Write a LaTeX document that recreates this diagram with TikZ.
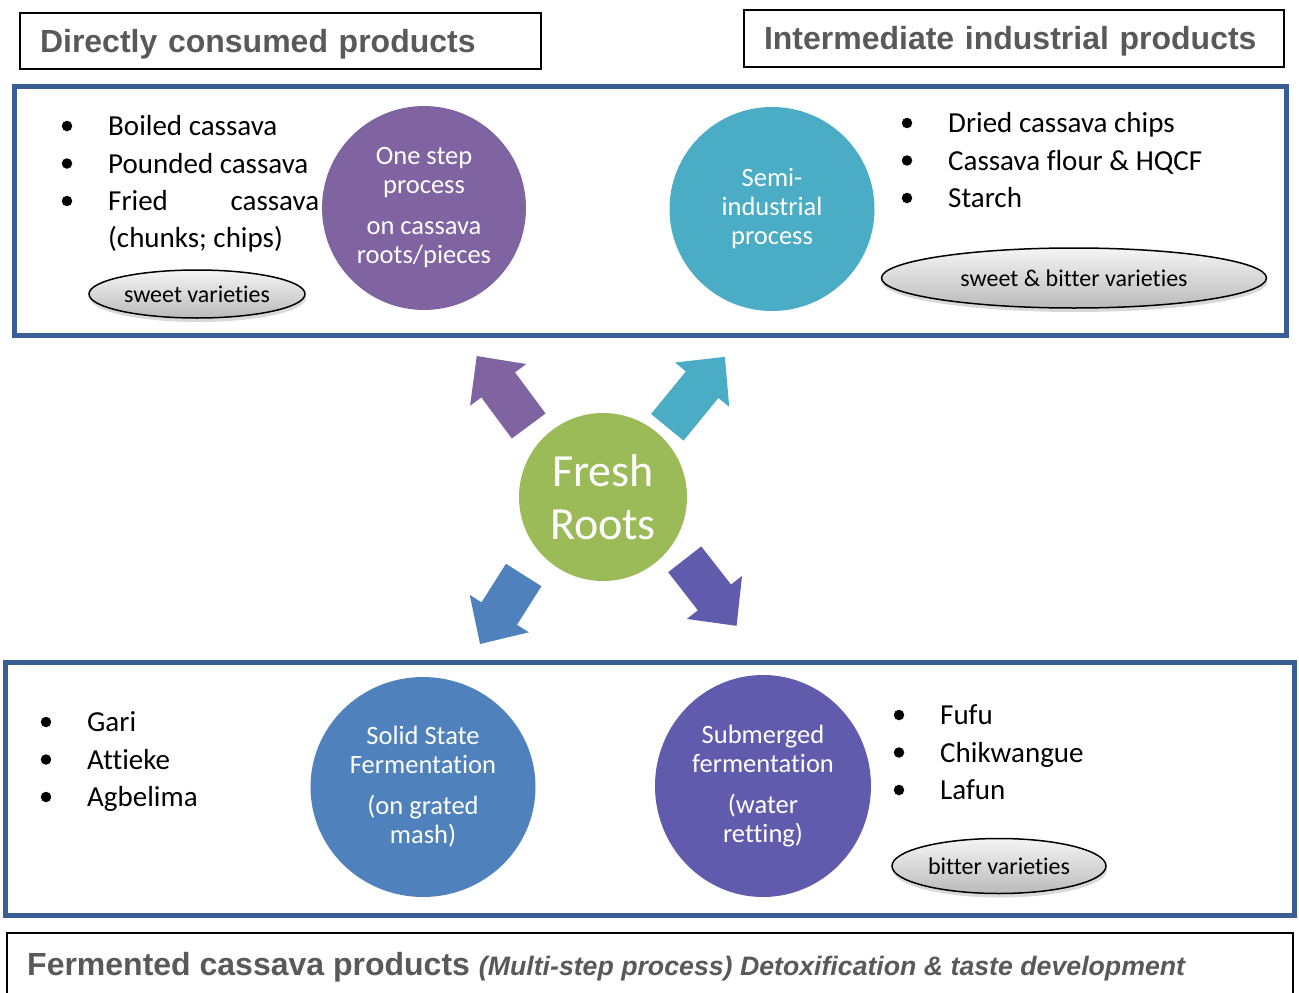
\documentclass[tikz,border=0pt]{standalone}
\usepackage{fontspec}
\setmainfont{Carlito}[RawFeature={-liga;-clig;-dlig;-calt;-hlig;-ccmp}]
\newfontfamily\titlefont{Liberation Sans}
\usetikzlibrary{positioning, calc, shapes.geometric, shadows}

\definecolor{frameblue}{RGB}{58,95,150}
\definecolor{titlegray}{RGB}{89,89,89}
\definecolor{onestep}{RGB}{128,100,162}
\definecolor{semiind}{RGB}{75,172,198}
\definecolor{freshgreen}{RGB}{155,187,89}
\definecolor{solidblue}{RGB}{79,129,189}
\definecolor{submerged}{RGB}{96,91,172}

% block arrow from tail to tip
\newcommand{\bigarrow}[3]{%
  \fill[#1] let \p1=($(#3)-(#2)$), \n1={atan2(\y1,\x1)}, \n2={veclen(\x1,\y1)}, \n3={\n2-36pt} in
    ([shift={(#2)},rotate=\n1]0pt,21pt) -- ([shift={(#2)},rotate=\n1]\n3,21pt)
    -- ([shift={(#2)},rotate=\n1]\n3,35pt) -- ([shift={(#2)},rotate=\n1]\n2,0pt)
    -- ([shift={(#2)},rotate=\n1]\n3,-35pt) -- ([shift={(#2)},rotate=\n1]\n3,-21pt)
    -- ([shift={(#2)},rotate=\n1]0pt,-21pt) -- cycle;}

\begin{document}
\begin{tikzpicture}[x=1pt, y=-1pt,
    frame/.style={draw=frameblue, line width=5pt},
    titlebox/.style={draw=black, line width=2pt, inner xsep=20pt, inner ysep=0pt, align=left,
      text height=23pt, text depth=0pt,
      text=titlegray, font=\titlefont\bfseries\fontsize{32}{38}\selectfont},
    process/.style={ellipse, inner sep=0pt, text=white, align=center, font=\fontsize{26.5}{29}\selectfont},
    dot/.style={circle, fill=black, inner sep=0pt, minimum size=10.5pt},
    item/.style={anchor=west, inner sep=0pt, text height=19pt, text depth=0pt, font=\fontsize{29}{35}\selectfont},
    variety/.style={ellipse, draw=black, line width=1.5pt, top color=black!4, bottom color=black!27,
      inner sep=0pt, font=\fontsize{24}{28}\selectfont,
      drop shadow={shadow xshift=1pt, shadow yshift=-4pt, opacity=0.25, fill=black!60}}
  ]
  \useasboundingbox (0,0) rectangle (1299,993);

  % Titles and frames
  \node[titlebox, text width=481pt, minimum height=56pt] (dctitle) at (280.5,41) {Directly consumed products};
  \node[titlebox, text width=500pt, minimum height=57pt] (ictitle) at (1014,38) {Intermediate industrial products};
  \draw[frame] (14,86) rectangle (1286,335);
  \draw[frame] (5,662) rectangle (1294,915);
  \draw[line width=2pt] (7,993) -- (7,933) -- (1293,933) -- (1293,993);
  \node[anchor=base west, inner sep=0pt, text=titlegray, font=\titlefont\bfseries\fontsize{32}{38}\selectfont] (fctitle)
    at (27,975) {Fermented cassava products {\fontsize{26.7}{30}\selectfont\itshape (Multi-step process) Detoxification \& taste development}};

  % Process circles
  \node[process, fill=onestep, minimum width=204pt, minimum height=204pt] (onestep) at (424,208)
    {One step\\process\\[12pt]on cassava\\roots/pieces};
  \node[process, fill=semiind, minimum width=205pt, minimum height=204pt] (semiind) at (772,209)
    {Semi-\\industrial\\process};
  \node[process, fill=freshgreen, minimum width=168pt, minimum height=168pt, font=\fontsize{46}{53}\selectfont] (fresh) at (603,497)
    {Fresh\\Roots};
  \node[process, fill=solidblue, minimum width=225pt, minimum height=220pt] (solid) at (423,787)
    {Solid State\\Fermentation\\[12pt](on grated\\mash)};
  \node[process, fill=submerged, minimum width=216pt, minimum height=222pt] (submerged) at (763,786)
    {Submerged\\fermentation\\[12pt](water\\retting)};

  % Arrows out of the fresh roots
  \coordinate (onetail) at (528.7,426);   \coordinate (onetip) at (476.7,356);
  \coordinate (semitail) at (667.3,427.3); \coordinate (semitip) at (725,356.7);
  \coordinate (solidtail) at (523.7,575); \coordinate (solidtip) at (480,644);
  \coordinate (subtail) at (684.7,559.3); \coordinate (subtip) at (736.7,626);
  \bigarrow{onestep}{onetail}{onetip}
  \bigarrow{semiind}{semitail}{semitip}
  \bigarrow{solidblue}{solidtail}{solidtip}
  \bigarrow{submerged}{subtail}{subtip}

  % Product lists
  \foreach \txt [count=\i] in {Boiled cassava, Pounded cassava, {\hbox to 211pt{Fried\hfill cassava}}} {
    \node[dot] (dcdot\i) at (67,{126+37.5*(\i-1)}) {};
    \node[item] (dc\i) at (108,{126+37.5*(\i-1)}) {\txt};
  }
  \node[item] (dc4) at (108,238) {(chunks; chips)};
  \foreach \txt [count=\i] in {Dried cassava chips, Cassava flour \& HQCF, Starch} {
    \node[dot] (icdot\i) at (907,{123+37.5*(\i-1)}) {};
    \node[item] (ic\i) at (948,{123+37.5*(\i-1)}) {\txt};
  }
  \foreach \txt [count=\i] in {Gari, Attieke, Agbelima} {
    \node[dot] (ssdot\i) at (46,{722+37.5*(\i-1)}) {};
    \node[item] (ss\i) at (87,{722+37.5*(\i-1)}) {\txt};
  }
  \foreach \txt [count=\i] in {Fufu, Chikwangue, Lafun} {
    \node[dot] (smdot\i) at (899,{715+37.5*(\i-1)}) {};
    \node[item] (sm\i) at (940,{715+37.5*(\i-1)}) {\txt};
  }

  % Varieties
  \node[variety, minimum width=216pt, minimum height=48pt] (sweet) at (197,294) {sweet varieties};
  \node[variety, minimum width=385pt, minimum height=60pt] (sweetbitter) at (1074,278) {sweet \& bitter varieties};
  \node[variety, minimum width=214pt, minimum height=55pt] (bitter) at (999,866) {bitter varieties};
\end{tikzpicture}
\end{document}
